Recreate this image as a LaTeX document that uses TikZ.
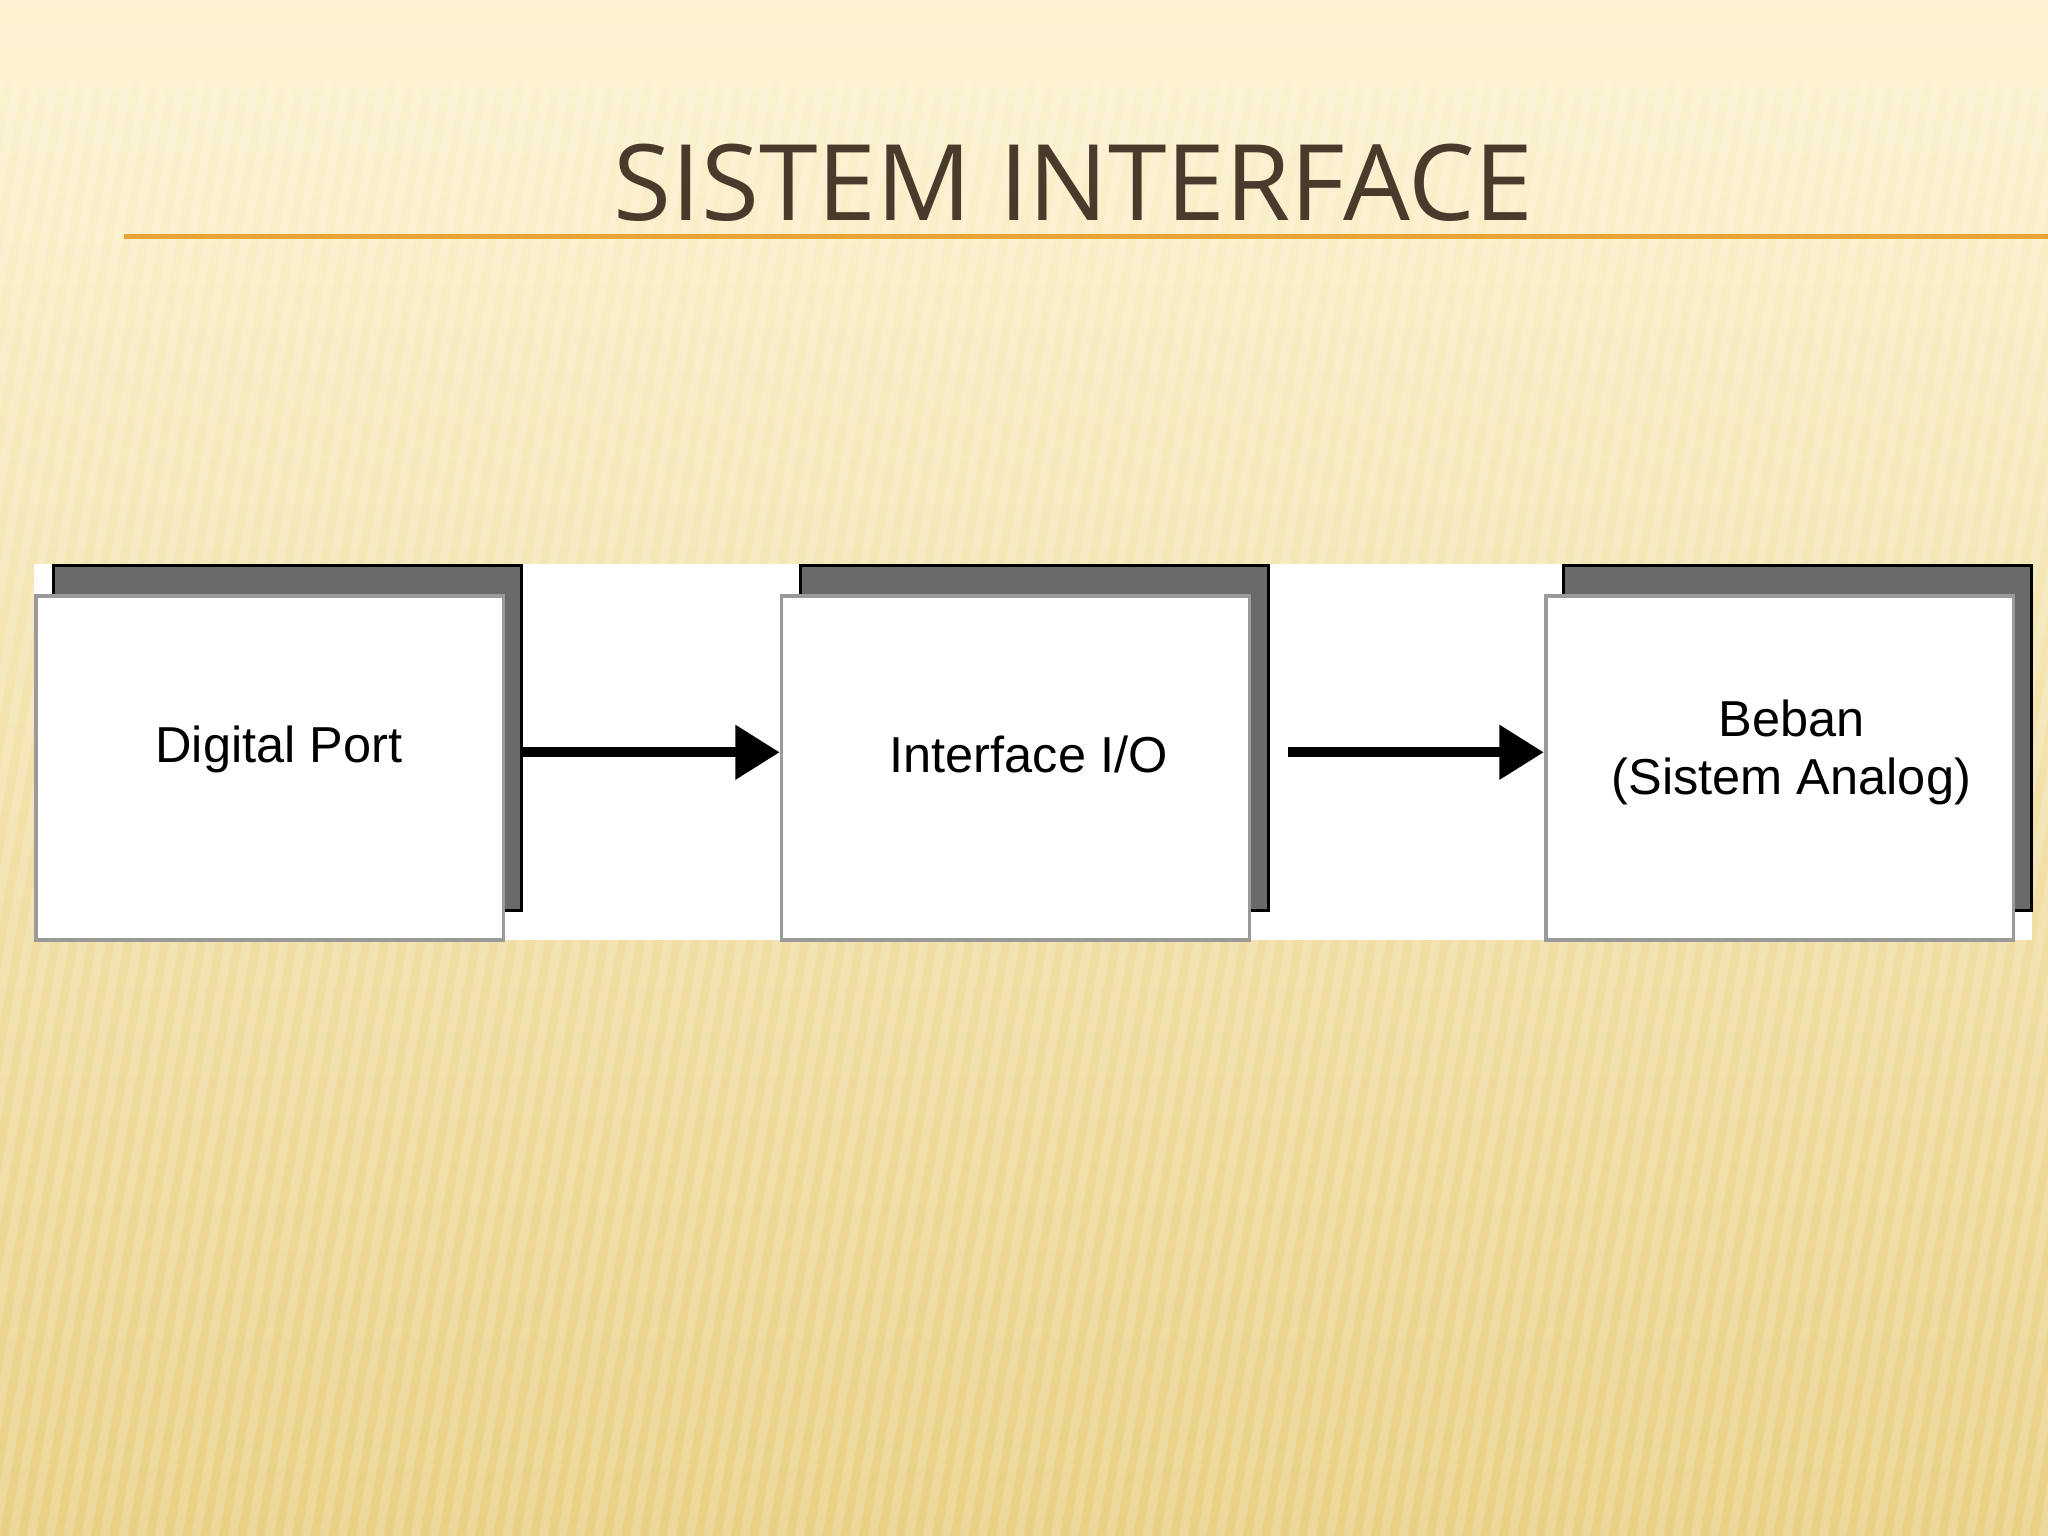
\documentclass[tikz,border=0pt]{standalone}
\usepackage{fontspec}
\setmainfont{Liberation Sans}
\newfontfamily\titlefont{Open Sans}
\usetikzlibrary{arrows.meta}
\definecolor{bgtop}{HTML}{FCF3D2}
\definecolor{bgbot}{HTML}{E9D084}
\definecolor{titlec}{HTML}{4A3A2C}
\definecolor{rulec}{HTML}{E8A535}
\definecolor{shadowc}{HTML}{6A6A6A}
\definecolor{borderc}{HTML}{9A9A9A}
\tikzset{
 shadowbox/.style={fill=shadowc,draw=black,line width=0.6pt,minimum width=3.58cm,minimum height=2.64cm,inner sep=0pt,anchor=north west},
 frontbox/.style={fill=white,draw=borderc,line width=0.8pt,minimum width=3.58cm,minimum height=2.63cm,inner sep=0pt,anchor=north west},
 lbl/.style={align=center,font=\fontsize{11}{12.5}\selectfont},
 flow/.style={line width=2.2pt,-{Triangle[length=0.34cm,width=0.4cm]}}
}
\begin{document}
\begin{tikzpicture}[x=0.01cm,y=-0.01cm]
\useasboundingbox (0,0) rectangle (1568,1176);
\shade[top color=bgtop,bottom color=bgbot] (0,0) rectangle (1568,1176);
\foreach \i in {0,14,...,1900}{\draw[white,opacity=0.18,line width=2pt] (\i-200,1176) -- (\i,60);}
\shade[top color=bgtop,bottom color=bgtop,opacity=0.6] (0,0) rectangle (1568,70);
\node[font=\titlefont\fontsize{23}{26}\selectfont,text=titlec] (title) at (822,140) {SISTEM INTERFACE};
\coordinate (rl) at (95,181); \coordinate (rr) at (1568,181);
\draw[rulec,line width=1.2pt] (rl) -- (rr);
\fill[white] (26,432) rectangle (1556,720);
\node[shadowbox] (s1) at (40,432) {};
\node[shadowbox] (s2) at (612,432) {};
\node[shadowbox] (s3) at (1196,432) {};
\node[frontbox] (b1) at (26,455) {};
\node[frontbox] (b2) at (597,455) {};
\node[frontbox] (b3) at (1182,455) {};
\node[lbl] (t1) at ([shift={(7,-14)}]b1.center) {Digital Port};
\node[lbl] (t2) at ([shift={(10,-10)}]b2.center) {Interface I/O};
\node[lbl] (t3) at ([shift={(9,-12)}]b3.center) {Beban\\(Sistem Analog)};
\draw[flow] (s1.east |- b1.east) ++(0,-12) coordinate (a1) -- (b2.west |- a1);
\draw[flow] (s2.east |- b2.east) ++(14,-12) coordinate (a2) -- (b3.west |- a2);
\end{tikzpicture}
\end{document}
